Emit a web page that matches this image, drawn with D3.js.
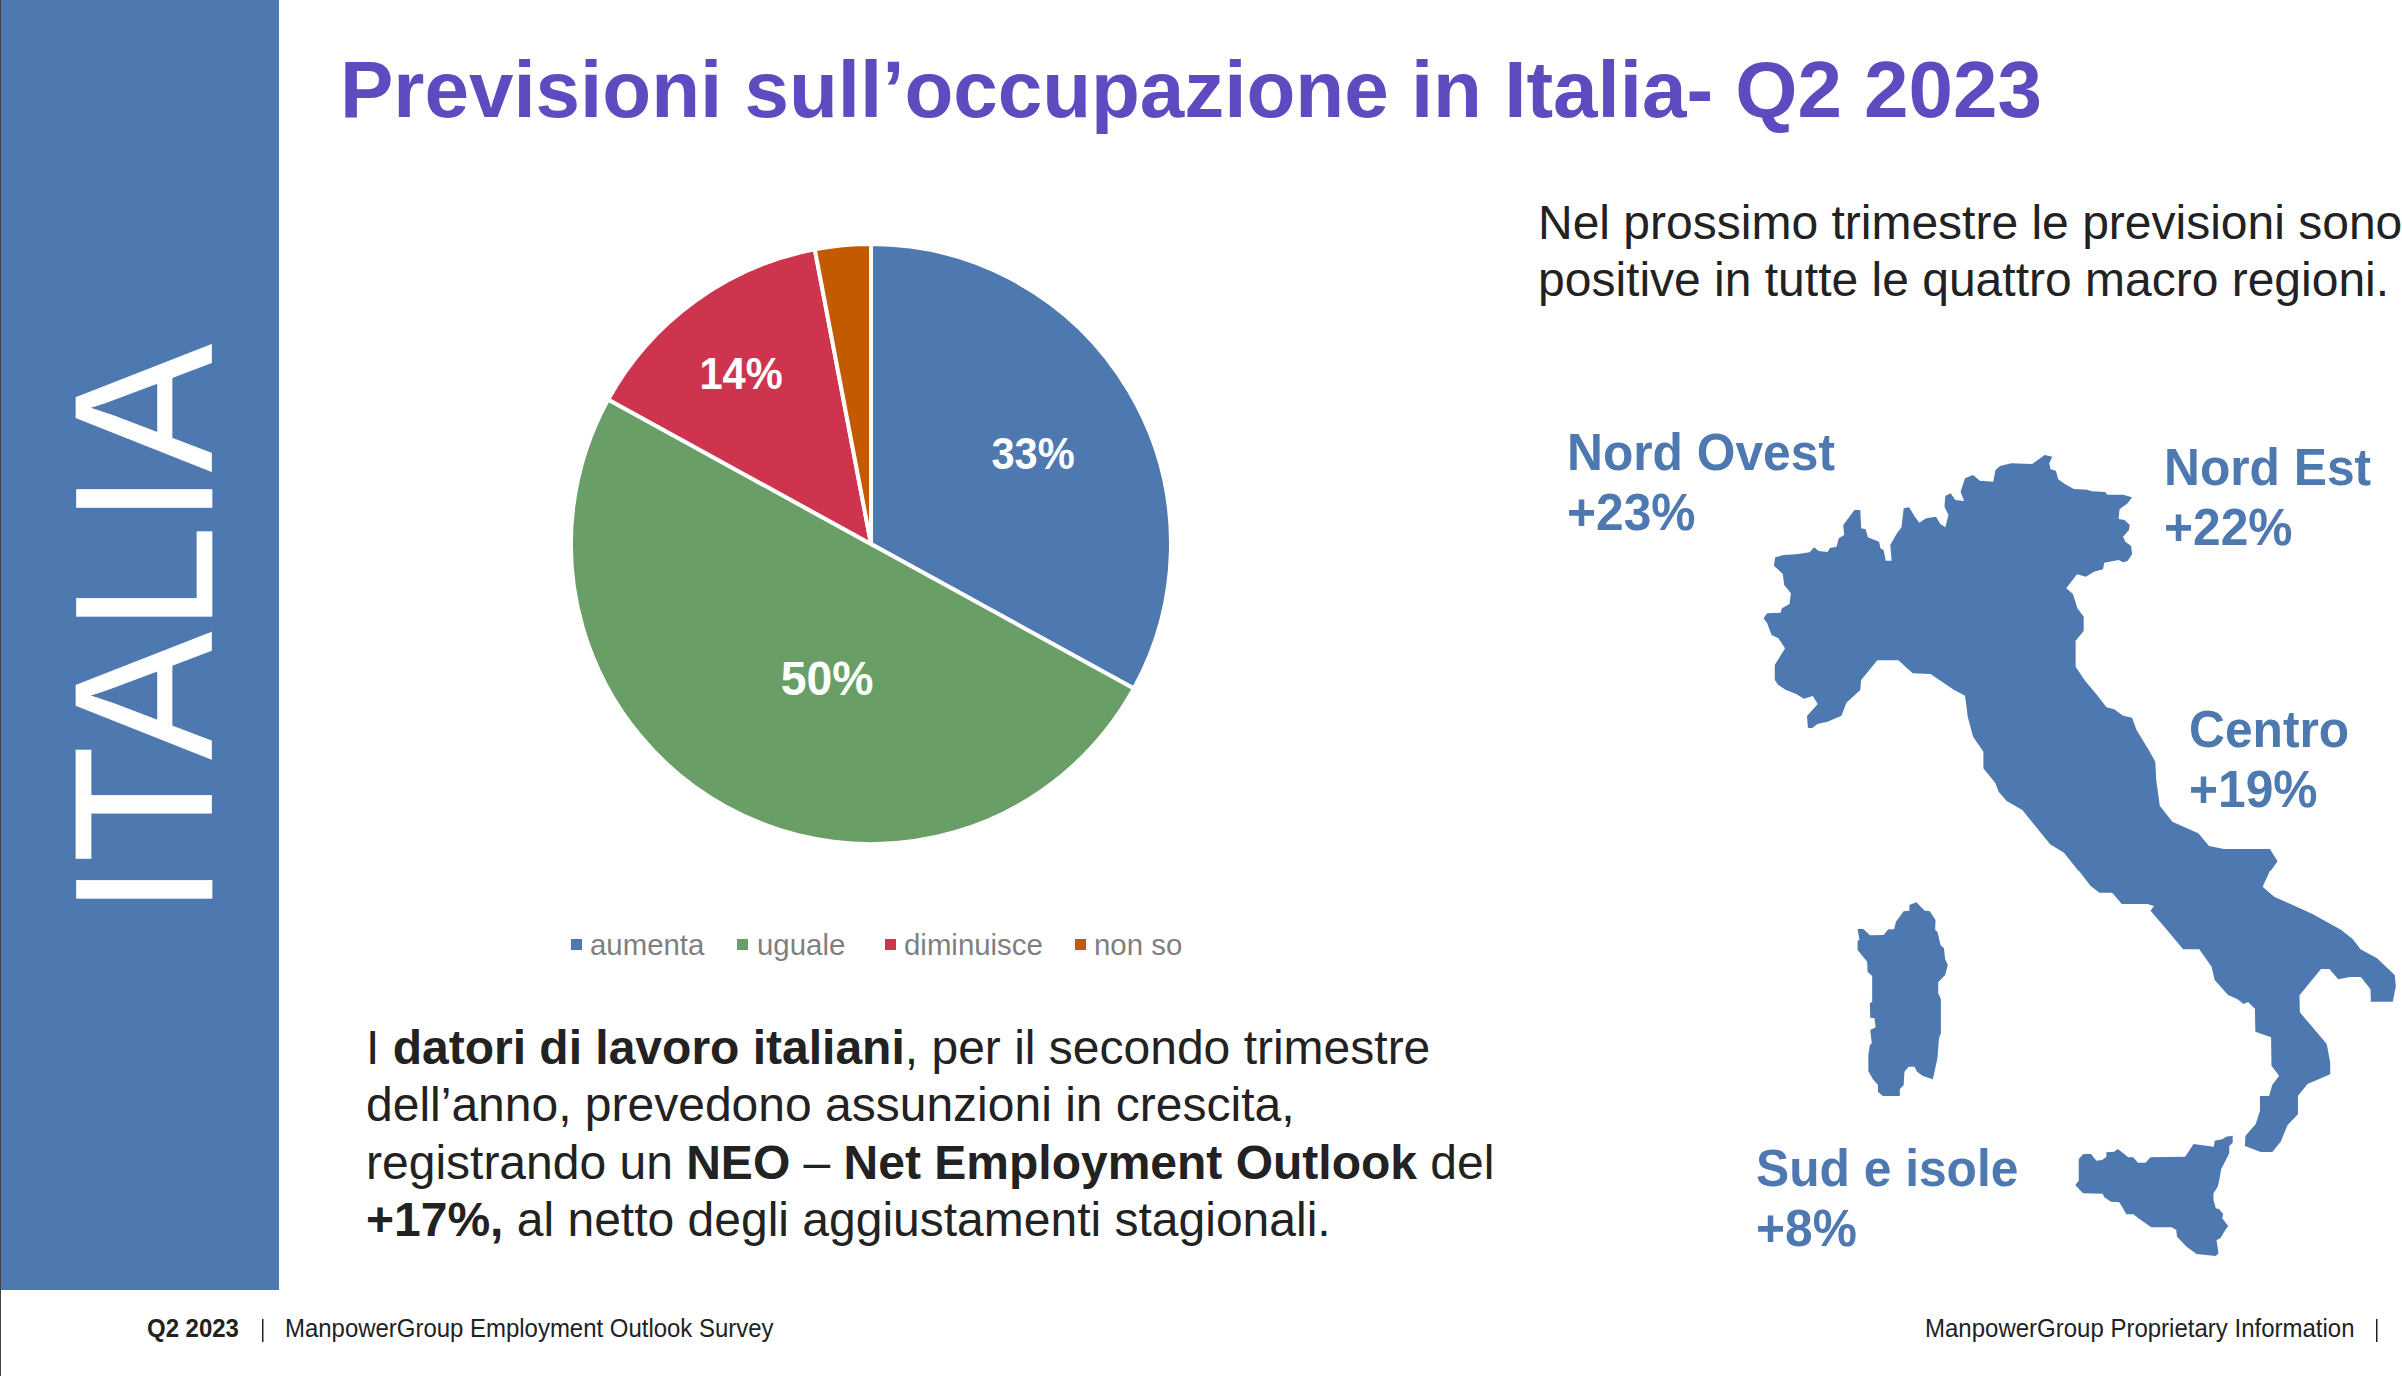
<!DOCTYPE html>
<html><head><meta charset="utf-8">
<script src="https://cdn.jsdelivr.net/npm/d3@7/dist/d3.min.js"></script>
<style>html,body{margin:0;padding:0;background:#fff}svg{display:block}text{font-family:"Liberation Sans",Arial,sans-serif}</style>
</head><body><svg id="c" width="2402" height="1376"></svg>
<script>
const categories=["aumenta","uguale","diminuisce","non so"];
const values=[33,50,14,3];
const sliceLabels=["33%","50%","14%",""];
const colors=["#4d79b0","#699f66","#ce344e","#c45a00"];
const regionNames=["Nord Ovest","Nord Est","Centro","Sud e isole"];
const regionValues=["+23%","+22%","+19%","+8%"];
const mapNorth=[[770,105],[787,110],[780,130],[783,148],[795,152],[800,178],[815,192],[835,207],[865,209],[875,214],[905,216],[910,224],[945,224],[965,232],[955,250],[937,268],[935,297],[948,300],[960,315],[958,330],[945,350],[950,365],[963,378],[965,403],[955,423],[945,427],[935,420],[903,428],[900,448],[880,455],[862,470],[842,463],[818,505],[833,522],[843,565],[857,590],[857,633],[839,662],[839,740],[860,782],[885,822],[908,862],[925,868],[945,887],[965,893],[975,930],[1000,985],[1017,1025],[1019,1080],[1027,1157],[1055,1205],[1113,1240],[1137,1278],[1170,1287],[1273,1287],[1290,1324],[1275,1352],[845,1352],[813,1298],[782,1273],[720,1170],[685,1143],[667,1115],[660,1090],[633,1045],[633,995],[610,950],[598,890],[592,827],[565,808],[515,762],[475,760],[443,721],[396,721],[360,780],[358,810],[327,848],[316,887],[285,905],[262,912],[250,925],[241,923],[239,888],[263,852],[252,828],[232,836],[215,822],[192,810],[175,795],[167,780],[167,735],[190,685],[175,655],[160,645],[150,610],[142,595],[150,580],[180,578],[183,565],[200,552],[203,520],[188,495],[185,462],[165,437],[168,412],[187,405],[215,403],[245,397],[255,382],[265,393],[285,396],[290,384],[305,380],[310,355],[322,345],[320,315],[345,270],[358,270],[360,325],[370,328],[375,352],[400,365],[403,385],[410,390],[415,422],[428,422],[425,375],[440,340],[450,322],[455,265],[467,262],[480,290],[490,308],[505,295],[527,290],[537,312],[548,322],[555,285],[546,260],[548,228],[560,220],[570,240],[590,243],[582,215],[592,175],[610,165],[625,182],[655,185],[660,150],[670,138],[695,130],[742,132]];
const mapSouth=[[725,0],[757,48],[780,68],[813,68],[838,102],[905,102],[922,108],[913,122],[945,165],[998,238],[1040,238],[1072,290],[1080,330],[1115,375],[1140,388],[1155,402],[1167,396],[1185,416],[1186,485],[1227,502],[1228,587],[1248,617],[1230,645],[1222,678],[1198,678],[1198,722],[1187,762],[1160,798],[1159,828],[1200,846],[1230,846],[1252,815],[1270,765],[1297,733],[1297,677],[1322,642],[1381,613],[1381,578],[1372,522],[1302,427],[1301,376],[1357,297],[1379,297],[1402,328],[1433,321],[1461,321],[1486,358],[1487,395],[1544,395],[1552,348],[1549,315],[1503,265],[1460,238],[1440,208],[1410,180],[1335,132],[1235,80],[1205,50],[1225,0]];
const mapSardinia=[[150,177],[165,177],[182,196],[218,195],[230,178],[245,178],[250,155],[270,124],[285,122],[285,105],[303,97],[325,122],[338,124],[353,150],[352,180],[358,185],[366,225],[375,235],[378,268],[385,285],[378,315],[360,337],[360,370],[367,388],[367,490],[362,505],[358,565],[346,628],[320,618],[305,605],[298,590],[283,590],[272,605],[270,645],[260,658],[260,678],[216,678],[203,665],[203,645],[190,628],[178,603],[178,555],[182,525],[187,520],[183,480],[197,472],[194,445],[183,443],[182,400],[188,395],[188,318],[176,305],[175,275],[150,240],[150,212],[155,210]];
const mapSicily=[[1127,797],[1127,818],[1118,828],[1118,850],[1105,880],[1097,897],[1093,925],[1088,950],[1077,970],[1077,990],[1083,1015],[1092,1018],[1102,1032],[1100,1045],[1115,1068],[1105,1085],[1095,1105],[1085,1110],[1090,1150],[1083,1158],[1033,1152],[1007,1130],[982,1100],[980,1080],[968,1072],[915,1072],[885,1048],[868,1033],[850,1033],[832,997],[810,995],[793,982],[788,971],[737,970],[717,945],[726,932],[726,867],[738,852],[758,852],[772,872],[787,870],[798,860],[798,847],[818,845],[828,837],[855,862],[868,862],[880,878],[900,878],[913,862],[1003,860],[1012,845],[1025,822],[1078,830],[1080,812],[1100,808],[1110,800]];

const blue="#4d79b0", ink="#222";
const svg=d3.select("#c");
// narrow a text horizontally, to match the reference's tighter Helvetica metrics
function squeeze(sel,k){const n=sel.node();sel.attr("textLength",n.getComputedTextLength()*k).attr("lengthAdjust","spacingAndGlyphs");return sel;}
// sidebar
svg.append("rect").attr("x",0).attr("y",0).attr("width",279).attr("height",1290).attr("fill",blue);
svg.append("rect").attr("x",0).attr("y",0).attr("width",1).attr("height",1376).attr("fill","#444");
svg.append("text").attr("transform","translate(212,916) rotate(-90)").attr("font-size",197).attr("fill","#fff").attr("stroke","#fff").attr("stroke-width",0.6)
  .attr("textLength",572).attr("lengthAdjust","spacingAndGlyphs").text("ITALIA");
// title
svg.append("text").attr("x",340).attr("y",117).attr("font-size",80).attr("font-weight",700).attr("fill","#5f4bbf").attr("textLength",1702).attr("lengthAdjust","spacingAndGlyphs").text("Previsioni sull’occupazione in Italia- Q2 2023");
// pie
const pie=d3.pie().sort(null)(values);
const arc=d3.arc().innerRadius(0).outerRadius(300);
const g=svg.append("g").attr("transform","translate(871,544)");
g.selectAll("path").data(pie).join("path").attr("d",arc).attr("fill",(d,i)=>colors[i]).attr("stroke","#fff").attr("stroke-width",4);
const lblDx=[162,-44,-130,0], lblDy=[-91,133,-171,0], lblSize=[44,49,44,44];
g.selectAll("text").data(pie).join("text")
 .attr("x",(d,i)=>lblDx[i]).attr("y",(d,i)=>lblDy[i])
 .attr("text-anchor","middle").attr("dy","0.36em").attr("font-size",(d,i)=>lblSize[i]).attr("font-weight",700).attr("fill","#fff")
 .text((d,i)=>sliceLabels[i]).each(function(d,i){if(sliceLabels[i])squeeze(d3.select(this),0.945)});
// legend
const legX=[571,737,885,1075], legTxt=[590,757,904,1094];
categories.forEach((c,i)=>{
 svg.append("rect").attr("x",legX[i]).attr("y",939).attr("width",11).attr("height",11).attr("fill",colors[i]);
 svg.append("text").attr("x",legTxt[i]).attr("y",955).attr("font-size",29.4).attr("fill","#7f7f7f").text(c);
});
// body
const lines=[[["I ",0],["datori di lavoro italiani",1],[", per il secondo trimestre",0]],
[["dell’anno, prevedono assunzioni in crescita,",0]],
[["registrando un ",0],["NEO",1],[" – ",0],["Net Employment Outlook",1],[" del",0]],
[["+17%,",1],[" al netto degli aggiustamenti stagionali.",0]]];
lines.forEach((l,i)=>{const t=svg.append("text").attr("x",366).attr("y",1063.5+i*57.6).attr("font-size",48).attr("fill",ink);
 l.forEach(s=>t.append("tspan").attr("font-weight",s[1]?700:400).text(s[0]));});
["Nel prossimo trimestre le previsioni sono","positive in tutte le quattro macro regioni."].forEach((s,i)=>
 svg.append("text").attr("x",1538).attr("y",238.5+i*57.2).attr("font-size",48).attr("fill",ink).text(s));
// map
const x1=d3.scaleLinear([0,1568],[1700,2402]), y1=d3.scaleLinear([0,1350],[420,870]);
const x2=d3.scaleLinear([0,1568],[1800,2402]), y2=d3.scaleLinear([0,1200],[870,1270]);
const l1=d3.line().x(d=>x1(d[0])).y(d=>y1(d[1])), l2=d3.line().x(d=>x2(d[0])).y(d=>y2(d[1]));
svg.append("path").attr("d",l1(mapNorth)+"Z").attr("fill",blue);
[mapSouth,mapSardinia,mapSicily].forEach(m=>svg.append("path").attr("d",l2(m)+"Z").attr("fill",blue));
// region labels
const regX=[1567,2164,2189,1756], regY=[470,485,747,1186];
regionNames.forEach((n,i)=>{
 squeeze(svg.append("text").attr("x",regX[i]).attr("y",regY[i]).attr("font-size",52).attr("font-weight",700).attr("fill",blue).text(n),0.956);
 squeeze(svg.append("text").attr("x",regX[i]).attr("y",regY[i]+60).attr("font-size",52).attr("font-weight",700).attr("fill",blue).text(regionValues[i]),0.956);
});
// footer
squeeze(svg.append("text").attr("x",147).attr("y",1337).attr("font-size",25).attr("font-weight",700).attr("fill",ink).text("Q2 2023"),0.958);
svg.append("rect").attr("x",262).attr("y",1319).attr("width",1.5).attr("height",23).attr("fill",ink);
squeeze(svg.append("text").attr("x",285).attr("y",1337).attr("font-size",25).attr("fill",ink).text("ManpowerGroup Employment Outlook Survey"),0.958);
const fr=svg.append("text").attr("x",1925).attr("y",1337).attr("font-size",25).attr("fill",ink).text("ManpowerGroup Proprietary Information");
squeeze(fr,0.96);
svg.append("rect").attr("x",2376).attr("y",1319).attr("width",1.5).attr("height",23).attr("fill",ink);
</script></body></html>
